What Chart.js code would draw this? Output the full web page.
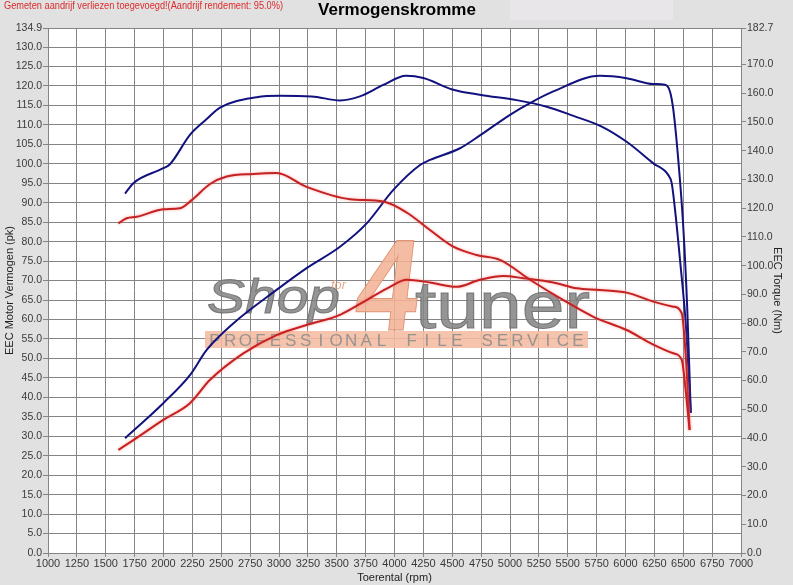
<!DOCTYPE html>
<html>
<head>
<meta charset="utf-8">
<script src="https://cdn.jsdelivr.net/npm/chart.js@4"></script>
<style>
	html, body { margin: 0; padding: 0; background: #e1e1e1; }
	#wrap { width: 793px; height: 585px; }
</style>
</head>
<body>
<div id="wrap"><canvas id="dyno_chart" width="793" height="585"></canvas></div>
<script>
// Texts
const noteText = 'Gemeten aandrijf verliezen toegevoegd!(Aandrijf rendement: 95.0%)',
	  chartTitle = 'Vermogenskromme';

// Tick values
const rpmTicks = [1000, 1250, 1500, 1750, 2000, 2250, 2500, 2750, 3000, 3250, 3500, 3750, 4000, 4250, 4500, 4750, 5000, 5250, 5500, 5750, 6000, 6250, 6500, 6750, 7000];
const pkTicks = [0, 5, 10, 15, 20, 25, 30, 35, 40, 45, 50, 55, 60, 65, 70, 75, 80, 85, 90, 95, 100, 105, 110, 115, 120, 125, 130, 134.9];
const nmTicks = [0, 10, 20, 30, 40, 50, 60, 70, 80, 90, 100, 110, 120, 130, 140, 150, 160, 170, 182.7];

// Blue torque (Nm, right axis)
const blueTorqueRpm = [1667, 1739, 1998, 2056, 2229, 2374, 2489, 2807, 3009, 3283, 3528, 3701, 3903, 4100, 4250, 4500, 4750, 5058, 5318, 5550, 5794, 6010, 6241, 6371, 6400, 6429, 6472, 6524, 6565];
const blueTorqueNm = [125.1, 128.7, 133.9, 135.3, 145.5, 151.0, 155.0, 158.6, 159.1, 158.9, 157.5, 158.9, 162.9, 166.1, 165.3, 161.3, 159.4, 157.6, 155.3, 152.1, 148.4, 143.1, 135.6, 131.5, 128.7, 119.4, 102.0, 78.5, 48.8];

// Blue power (pk, left axis)
const bluePowerRpm = [1667, 1998, 2229, 2374, 2604, 2979, 3239, 3528, 3759, 3990, 4221, 4307, 4567, 4740, 5000, 5173, 5375, 5779, 6010, 6241, 6342, 6385, 6414, 6457, 6500, 6535, 6565];
const bluePowerPk = [29.5, 38.5, 45.7, 52.2, 59.0, 67.6, 73.2, 78.7, 84.7, 93.3, 99.7, 101.0, 104.0, 107.3, 112.6, 115.6, 118.6, 122.6, 122.0, 120.5, 120.3, 118.6, 113.9, 101.0, 83.9, 62.5, 36.0];

// Red torque (Nm, right axis)
const redTorqueRpm = [1609, 1681, 1768, 1998, 2143, 2244, 2403, 2547, 2778, 2979, 3239, 3615, 3903, 4105, 4307, 4509, 4711, 4913, 5173, 5462, 5722, 6010, 6241, 6414, 6487, 6524, 6555];
const redTorqueNm = [114.7, 116.5, 117.0, 119.6, 120.0, 122.8, 128.4, 131.0, 131.9, 132.2, 127.4, 123.1, 122.3, 118.5, 112.4, 106.6, 103.7, 102.0, 95.1, 88.0, 82.2, 77.6, 72.5, 69.5, 67.2, 55.5, 42.8];

// Red power (pk, left axis)
const redPowerRpm = [1609, 1739, 1998, 2229, 2403, 2691, 2979, 3239, 3528, 3759, 3961, 4105, 4307, 4538, 4740, 4942, 5115, 5375, 5577, 5779, 6010, 6241, 6414, 6487, 6524, 6555];
const redPowerPk = [26.5, 29.0, 34.2, 38.5, 44.5, 51.3, 56.0, 58.6, 61.2, 65.0, 68.4, 70.2, 69.5, 68.4, 70.2, 71.2, 70.6, 69.5, 68.0, 67.6, 66.9, 64.6, 63.3, 61.6, 49.6, 31.6];

const blue = '#12127e',
	  red = '#c42222',
	  gridColor = '#858585',
	  tickColor = '#3a3a3a',
	  fontFam = '"Liberation Sans", Arial, sans-serif';

function toPoints(xs, ys) {
	return xs.map((x, i) => ({x: x, y: ys[i]}));
}

// fits a text to a given width by stretching it horizontally (optional skew)
function drawFit(ctx, text, x, y, width, font, fill, stroke, skew) {
	ctx.save();
	ctx.font = font;
	let w = ctx.measureText(text).width;
	ctx.translate(x, y);
	if (skew) ctx.transform(1, 0, skew, 1, 0, 0);
	ctx.scale(width / w, 1);
	ctx.fillStyle = fill;
	ctx.fillText(text, 0, 0);
	if (stroke) {
		ctx.strokeStyle = stroke;
		ctx.lineWidth = 1;
		ctx.strokeText(text, 0, 0);
	}
	ctx.restore();
}

// page background, plot background, header texts
const backdrop = {
	id: 'backdrop',
	beforeDraw(chart) {
		const ctx = chart.ctx, a = chart.chartArea;
		ctx.save();
		ctx.fillStyle = '#e1e1e1';
		ctx.fillRect(0, 0, chart.width, chart.height);
		ctx.fillStyle = '#e8e6e8';
		ctx.fillRect(510, 0, 163, 20);
		ctx.fillStyle = '#ffffff';
		ctx.fillRect(a.left, a.top, a.right - a.left, a.bottom - a.top);
		ctx.textBaseline = 'middle';
		drawFit(ctx, noteText, 4, 6, 279, '10px ' + fontFam, '#dd2b2b');
		ctx.fillStyle = '#000000';
		ctx.font = 'bold 17px ' + fontFam;
		ctx.textAlign = 'center';
		ctx.fillText(chartTitle, 397, 10);
		ctx.restore();
	}
};

// shop logo watermark behind the curves
const watermark = {
	id: 'watermark',
	beforeDatasetsDraw(chart) {
		const ctx = chart.ctx;
		ctx.save();
		ctx.globalAlpha = 0.88;
		ctx.textBaseline = 'alphabetic';
		ctx.textAlign = 'left';
		// salmon bar
		ctx.fillStyle = '#f5bca2';
		ctx.fillRect(205, 331, 383, 17);
		// big 4
		drawFit(ctx, '4', 352, 330, 62, 'bold 130px ' + fontFam, '#f4b397', '#dc8a68', -0.12);
		drawFit(ctx, 'Shop', 207, 313, 133, 'italic 48px ' + fontFam, '#868686', '#6e6e6e');
		drawFit(ctx, 'for', 331, 289, 15, 'italic 13px ' + fontFam, '#e29c7e');
		drawFit(ctx, 'tuner', 415, 328, 175, '66px ' + fontFam, '#868686', '#6e6e6e');
		// letter spaced line
		const line = 'PROFESSIONAL FILE SERVICE';
		ctx.font = '17px ' + fontFam;
		ctx.fillStyle = '#8c8c8c';
		ctx.textAlign = 'center';
		const step = (578 - 215) / (line.length - 1);
		for (let i = 0; i < line.length; i++) {
			ctx.fillText(line[i], 215 + i * step, 346);
		}
		ctx.restore();
	}
};

// soft glow round the red lines
const glow = {
	id: 'glow',
	beforeDatasetDraw(chart, args) {
		const ctx = chart.ctx;
		ctx.save();
		if (args.meta.dataset && args.meta.dataset.options.borderColor === red) {
			ctx.shadowColor = 'rgba(255, 100, 100, 0.6)';
			ctx.shadowBlur = 3;
		}
	},
	afterDatasetDraw(chart) {
		chart.ctx.restore();
	}
};

const lineBase = {
	type: 'line',
	borderWidth: 2,
	pointRadius: 0,
	fill: false,
	cubicInterpolationMode: 'monotone'
};

new Chart(document.getElementById('dyno_chart'), {
	data: {
		datasets: [
			Object.assign({}, lineBase, {label: 'Koppel', data: toPoints(redTorqueRpm, redTorqueNm), borderColor: red, yAxisID: 'y1'}),
			Object.assign({}, lineBase, {label: 'Vermogen', data: toPoints(redPowerRpm, redPowerPk), borderColor: red, yAxisID: 'y'}),
			Object.assign({}, lineBase, {label: 'Koppel', data: toPoints(blueTorqueRpm, blueTorqueNm), borderColor: blue, yAxisID: 'y1'}),
			Object.assign({}, lineBase, {label: 'Vermogen', data: toPoints(bluePowerRpm, bluePowerPk), borderColor: blue, yAxisID: 'y'})
		]
	},
	options: {
		responsive: false,
		animation: false,
		devicePixelRatio: 1,
		layout: { padding: { top: 28, left: 0, right: 0, bottom: 0 } },
		plugins: {
			legend: { display: false },
			tooltip: { enabled: false }
		},
		scales: {
			x: {
				type: 'linear',
				min: 1000,
				max: 7000,
				afterBuildTicks: (scale) => { scale.ticks = rpmTicks.map((v) => ({value: v})); },
				afterFit: (scale) => { scale.height = 32; },
				ticks: {
					color: tickColor,
					font: { family: fontFam, size: 11 },
					padding: 0,
					maxRotation: 0,
					autoSkip: false,
					callback: (value) => `${value}`
				},
				grid: { color: gridColor, tickLength: 4, lineWidth: 1 },
				border: { color: gridColor },
				title: {
					display: true,
					text: 'Toerental (rpm)',
					color: '#222',
					font: { family: fontFam, size: 11 },
					padding: { top: 0, bottom: 0 }
				}
			},
			y: {
				type: 'linear',
				position: 'left',
				min: 0,
				max: 134.9,
				afterBuildTicks: (scale) => { scale.ticks = pkTicks.map((v) => ({value: v})); },
				afterFit: (scale) => { scale.width = 48; },
				ticks: {
					color: tickColor,
					font: { family: fontFam, size: 10.5 },
					padding: 1,
					autoSkip: false,
					callback: (value) => value.toFixed(1)
				},
				grid: { color: gridColor, tickLength: 5, lineWidth: 1 },
				border: { color: gridColor },
				title: {
					display: true,
					text: 'EEC Motor Vermogen (pk)',
					color: '#222',
					font: { family: fontFam, size: 11 },
					padding: { top: 3, bottom: 0 }
				}
			},
			y1: {
				type: 'linear',
				position: 'right',
				min: 0,
				max: 182.7,
				afterBuildTicks: (scale) => { scale.ticks = nmTicks.map((v) => ({value: v})); },
				afterFit: (scale) => { scale.width = 52; },
				ticks: {
					color: tickColor,
					font: { family: fontFam, size: 10.5 },
					padding: 1,
					autoSkip: false,
					callback: (value) => value.toFixed(1)
				},
				grid: { color: gridColor, tickLength: 5, drawOnChartArea: false },
				border: { color: gridColor },
				title: {
					display: true,
					text: 'EEC Torque (Nm)',
					color: '#222',
					font: { family: fontFam, size: 11 },
					padding: { top: 9, bottom: 0 }
				}
			}
		}
	},
	plugins: [backdrop, watermark, glow]
});
</script>
</body>
</html>
